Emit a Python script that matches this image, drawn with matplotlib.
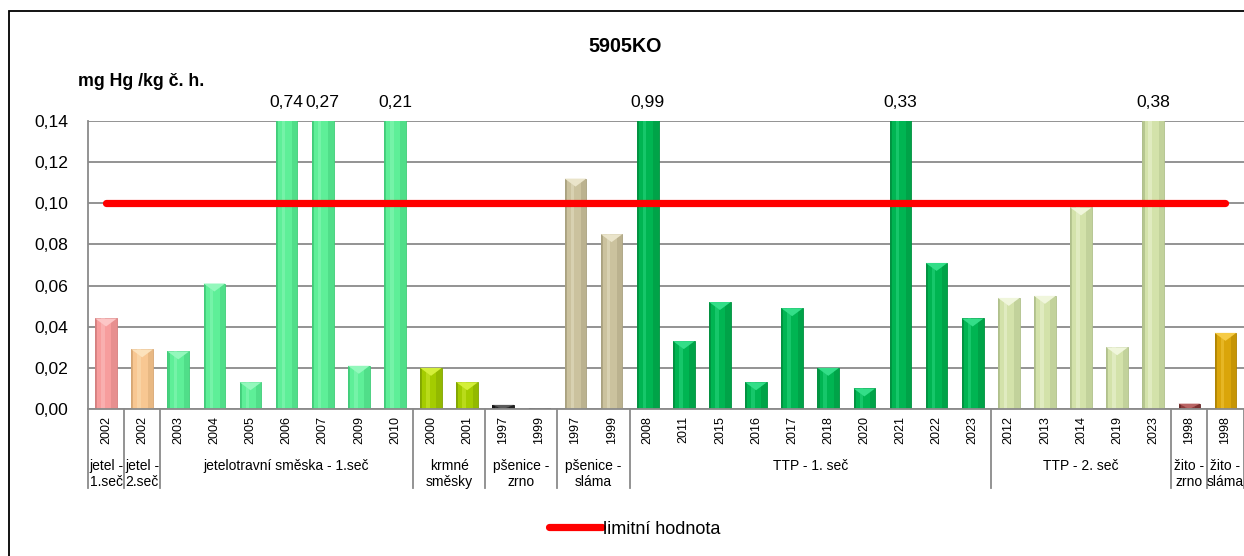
import matplotlib
matplotlib.use("Agg")
import matplotlib.pyplot as plt
from matplotlib.patches import Rectangle, Polygon
from matplotlib.ticker import FuncFormatter
import numpy as np

plt.rcParams["font.family"] = ["Liberation Sans", "DejaVu Sans"]

# --- data -------------------------------------------------------------
title = "5905KO"
unit_label = "mg Hg /kg č. h."
limit_label = "limitní hodnota"
limit_value = 0.10

group_labels = ["jetel -\n1.seč", "jetel -\n2.seč", "jetelotravní směska - 1.seč",
                "krmné\nsměsky", "pšenice -\nzrno", "pšenice -\nsláma",
                "TTP - 1. seč", "TTP - 2. seč", "žito -\nzrno", "žito -\nsláma"]
group_counts = [1, 1, 7, 2, 2, 2, 10, 5, 1, 1]

years = ["2002", "2002",
         "2003", "2004", "2005", "2006", "2007", "2009", "2010",
         "2000", "2001",
         "1997", "1999",
         "1997", "1999",
         "2008", "2011", "2015", "2016", "2017", "2018", "2020", "2021", "2022", "2023",
         "2012", "2013", "2014", "2019", "2023",
         "1998",
         "1998"]
values = [0.044, 0.029,
          0.028, 0.061, 0.013, 0.74, 0.27, 0.021, 0.21,
          0.020, 0.013,
          0.002, 0.0003,
          0.112, 0.085,
          0.99, 0.033, 0.052, 0.013, 0.049, 0.020, 0.010, 0.33, 0.071, 0.044,
          0.054, 0.055, 0.098, 0.030, 0.38,
          0.0026,
          0.037]

# --- styling per group: (base, light, dark) ----------------------------
group_styles = [
    ("#F79D9D", "#FCC6C6", "#D47E7E"),
    ("#F8C792", "#FCE2BC", "#D6A672"),
    ("#5EEF98", "#93F8BC", "#3FCB78"),
    ("#A4CC00", "#D4EF3A", "#7FA300"),
    ("#2E2E2E", "#5A5A5A", "#111111"),
    ("#CBC29E", "#EAE4CA", "#A8A07E"),
    ("#00B552", "#33DE88", "#008F3E"),
    ("#D3E2AA", "#F0F6DC", "#AFBF8A"),
    ("#8E3B3B", "#B96464", "#672626"),
    ("#DAA50A", "#F6CB45", "#AE8200"),
]

ymax = 0.14
W, H, DPI = 1244, 556, 100
fig = plt.figure(figsize=(W / DPI, H / DPI), dpi=DPI)
ax_left, ax_right, ax_bottom, ax_top = 88 / W, 1243.5 / W, 1 - 409 / H, 1 - 121 / H
ax = fig.add_axes([ax_left, ax_bottom, ax_right - ax_left, ax_top - ax_bottom])

n = len(values)
x = np.arange(n)
group_index = np.repeat(np.arange(len(group_counts)), group_counts)

grid_col = "#8A8A8A"
ax.set_xlim(-0.5, n - 0.5)
ax.set_ylim(0, ymax)
ax.set_yticks(np.arange(0, ymax + 1e-9, 0.02))
ax.yaxis.set_major_formatter(FuncFormatter(lambda v, _: f"{v:.2f}".replace(".", ",")))
ax.grid(axis="y", color=grid_col, lw=1.3)
ax.set_axisbelow(True)
for s in ("top", "right"):
    ax.spines[s].set_visible(False)
for s in ("left", "bottom"):
    ax.spines[s].set_color(grid_col)
    ax.spines[s].set_linewidth(1.3)
ax.tick_params(axis="y", length=0, pad=14, labelsize=12.6)
ax.set_xticks(x)
ax.set_xticklabels(years, rotation=90, fontsize=9)
ax.tick_params(axis="x", length=0, pad=5)

# bars with a bevelled look
base_cols = [group_styles[g][0] for g in group_index]
bars = ax.bar(x, values, width=0.6, color=base_cols, zorder=2)
ax_h_px = H * (ax_top - ax_bottom)
bevel_depth = 8 * ymax / ax_h_px
for rect, g in zip(bars, group_index):
    base, light, dark = group_styles[g]
    bx, bw, bh = rect.get_x(), rect.get_width(), rect.get_height()
    rect.set_edgecolor(dark)
    rect.set_linewidth(0.6)
    ax.add_patch(Rectangle((bx, 0), bw * 0.10, bh, color=dark, alpha=0.8, lw=0, zorder=2.1))
    ax.add_patch(Rectangle((bx + bw * 0.28, 0), bw * 0.16, bh, color=light, alpha=0.45, lw=0, zorder=2.1))
    ax.add_patch(Rectangle((bx + bw * 0.75, 0), bw * 0.25, bh, color=dark, alpha=0.45, lw=0, zorder=2.1))
    d = min(bevel_depth, bh)
    ax.add_patch(Polygon([(bx, bh), (bx + bw, bh), (bx + bw / 2, bh - d)],
                         closed=True, color=light, lw=0, zorder=2.2))

# value labels for bars exceeding the axis range
for xi, v in zip(x, values):
    if v > ymax:
        ax.annotate(f"{v:.2f}".replace(".", ","), xy=(xi, ymax), xytext=(0, 13),
                    textcoords="offset points", ha="center", va="center",
                    fontsize=12.6, annotation_clip=False)

# limit line
limit_line, = ax.plot([x[0], x[-1]], [limit_value, limit_value], color="#FF0000",
                      lw=5.2, solid_capstyle="round", zorder=3, label=limit_label)

# category group dividers and labels
xt = ax.get_xaxis_transform()
bounds = np.concatenate([[0], np.cumsum(group_counts)]) - 0.5
for b in bounds:
    ax.plot([b, b], [0, -0.274], transform=xt, color=grid_col, lw=1.3, clip_on=False)
for lab, lo, hi in zip(group_labels, bounds[:-1], bounds[1:]):
    ax.text((lo + hi) / 2, -0.174, lab, transform=xt, ha="center", va="top",
            fontsize=10, linespacing=1.15)

# titles
fig.text(625 / W, 1 - 47 / H, title, ha="center", va="center", fontsize=14.2, fontweight="bold")
fig.text(78 / W, 1 - 82 / H, unit_label, ha="left", va="center", fontsize=12.8, fontweight="bold")

# legend
fig.legend(handles=[limit_line], loc="center", bbox_to_anchor=(635 / W, 1 - 529 / H),
           frameon=False, fontsize=13, handlelength=2.9, handletextpad=0.1)

# outer frame
fig.patches.append(Rectangle((9 / W, -0.1), 1.2, 1.1 - 11 / H, transform=fig.transFigure,
                             fill=False, edgecolor="black", lw=1.3))

fig.savefig("out.png", dpi=DPI)
